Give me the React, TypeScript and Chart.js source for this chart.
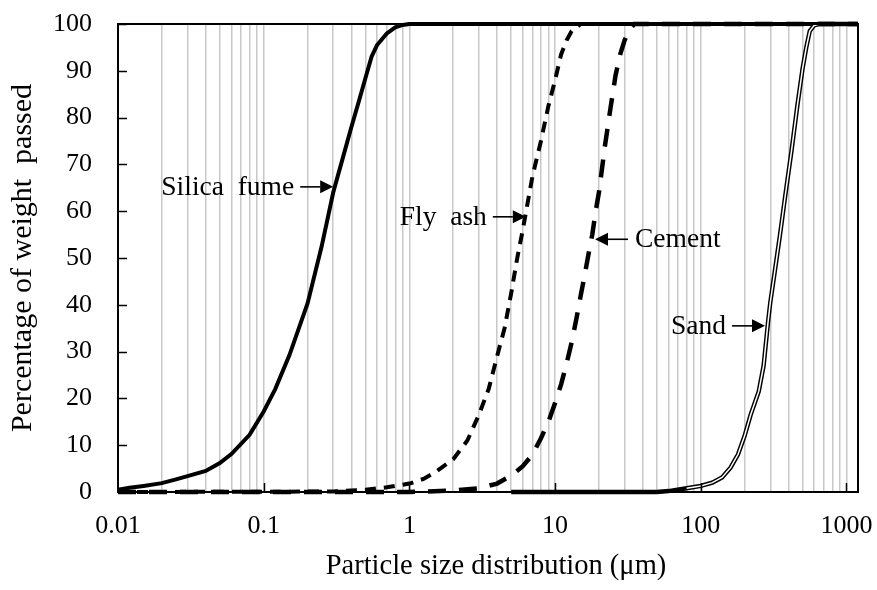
import React, { useEffect, useRef } from 'react';
import { Chart, registerables } from 'chart.js';

Chart.register(...registerables);

// Cumulative particle size distributions: size in µm, percentage of weight passed
const silicaFumeSize = [0.01, 0.012, 0.015, 0.02, 0.025, 0.03, 0.04, 0.05, 0.06, 0.08, 0.1, 0.12, 0.15, 0.2, 0.25, 0.3, 0.35, 0.4, 0.45, 0.5, 0.55, 0.6, 0.7, 0.8, 0.9, 1, 1200];
const silicaFumePassed = [0.5, 0.9, 1.3, 1.9, 2.7, 3.4, 4.5, 6.2, 8.1, 12.2, 17.2, 22, 29.2, 40.3, 52.5, 64, 71.5, 78, 83.5, 88.5, 93, 95.5, 98, 99.3, 99.8, 100, 100];

const flyAshSize = [0.01, 0.3, 0.5, 0.7, 1, 1.25, 1.5, 2, 2.5, 3, 3.5, 4, 4.5, 5, 5.5, 6, 6.5, 7, 8, 9, 10, 11, 12, 13, 15, 1200];
const flyAshPassed = [0, 0.1, 0.5, 1, 1.8, 2.8, 4.2, 7, 11, 16.5, 22, 29, 35, 42.5, 50, 56, 62, 67.5, 75, 82.5, 88, 93.5, 96.5, 98.5, 100, 100];

const cementSize = [0.01, 1, 2, 3, 4, 5, 6, 7, 8, 9, 10, 11, 12, 13, 14, 15, 16, 17, 18, 19, 20, 22, 24, 26, 28, 30, 32, 35, 1200];
const cementPassed = [0, 0, 0.3, 0.8, 1.8, 3.5, 5.5, 8, 11.5, 15, 19, 23, 27.5, 32, 37, 42, 46.5, 51, 55, 60, 64, 74, 82, 89, 93.5, 96.5, 98.5, 100, 100];

const sandSize = [5, 50, 60, 80, 100, 120, 140, 160, 180, 200, 220, 250, 270, 290, 300, 320, 350, 380, 420, 460, 500, 530, 560, 600, 650, 1200];
const sandPassed = [0, 0, 0.2, 0.8, 1.3, 2, 3.1, 5.2, 8, 12, 16.5, 21.5, 27, 36.5, 40.5, 46.5, 55, 63.3, 73, 82.5, 90.5, 95, 98.5, 99.7, 100, 100];

const xTickValues = [0.01, 0.1, 1, 10, 100, 1000];
const xTickLabels = ['0.01', '0.1', '1', '10', '100', '1000'];
const yTickValues = [0, 10, 20, 30, 40, 50, 60, 70, 80, 90, 100];

const xTitle = 'Particle size distribution (μm)';
const yTitle = 'Percentage of weight  passed';

// Curve names with the (size, % passed) point their arrow touches
const curveNames = ['Silica  fume', 'Fly  ash', 'Cement', 'Sand'];
const curveArrowSize = [0.3, 6.3, 18.8, 276];
const curveArrowPassed = [65.2, 58.8, 54, 35.5];
const curveArrowFromRight = [false, false, true, false];

const FONT = "'Liberation Serif', 'Times New Roman', serif";

const toPoints = (xs: number[], ys: number[]) => xs.map((x, i) => ({ x, y: ys[i] }));

// every 1..9 multiple of each decade, up to the axis maximum
const gridValues: number[] = [];
xTickValues.forEach((d) => {
  for (let m = 1; m <= 9; m++) {
    const v = Number((m * d).toPrecision(6));
    if (v <= 1200) gridValues.push(v);
  }
});

const decorPlugin = {
  id: 'decor',
  afterDraw(chart: any) {
    const { ctx, chartArea, scales } = chart;
    const { left, right, top, bottom } = chartArea;
    const xs = scales.x;
    const ys = scales.y;
    ctx.save();

    // top and right frame
    ctx.strokeStyle = '#000';
    ctx.lineWidth = 2;
    ctx.beginPath();
    ctx.moveTo(left - 1, top);
    ctx.lineTo(right, top);
    ctx.lineTo(right, bottom + 1);
    ctx.stroke();

    // inward tick marks
    ctx.lineWidth = 1.5;
    ctx.beginPath();
    yTickValues.forEach((v) => {
      if (v === 0) return;
      const y = Math.round(ys.getPixelForValue(v)) + 0.5;
      ctx.moveTo(left, y);
      ctx.lineTo(left + 9, y);
    });
    xTickValues.forEach((v, i) => {
      if (i === 0) return;
      const x = Math.round(xs.getPixelForValue(v)) + 0.5;
      ctx.moveTo(x, bottom);
      ctx.lineTo(x, bottom - 9);
    });
    ctx.stroke();

    // axis titles
    ctx.fillStyle = '#000';
    ctx.textAlign = 'center';
    ctx.textBaseline = 'middle';
    ctx.font = `28.5px ${FONT}`;
    ctx.fillText(xTitle, (left + right) / 2 + 8, 567);
    ctx.save();
    ctx.translate(23, (top + bottom) / 2);
    ctx.rotate(-Math.PI / 2);
    ctx.font = `30px ${FONT}`;
    ctx.fillText(yTitle, 0, 0);
    ctx.restore();

    // curve names with arrows
    ctx.font = `27.5px ${FONT}`;
    curveNames.forEach((name, i) => {
      const tipX = xs.getPixelForValue(curveArrowSize[i]);
      const tipY = ys.getPixelForValue(curveArrowPassed[i]);
      const dir = curveArrowFromRight[i] ? 1 : -1;
      const tailX = tipX + dir * 33;
      const head = 13;
      ctx.lineWidth = 1.6;
      ctx.beginPath();
      ctx.moveTo(tailX, tipY);
      ctx.lineTo(tipX + dir * head, tipY);
      ctx.stroke();
      ctx.beginPath();
      ctx.moveTo(tipX, tipY);
      ctx.lineTo(tipX + dir * head, tipY - 6.5);
      ctx.lineTo(tipX + dir * head, tipY + 6.5);
      ctx.closePath();
      ctx.fill();
      ctx.textBaseline = 'middle';
      if (dir < 0) {
        ctx.textAlign = 'right';
        ctx.fillText(name, tailX - 6, tipY + 1);
      } else {
        ctx.textAlign = 'left';
        ctx.fillText(name, tailX + 7, tipY + 1);
      }
    });

    ctx.restore();
  },
};

export default function App() {
  const canvasRef = useRef<HTMLCanvasElement | null>(null);

  useEffect(() => {
    const canvas = canvasRef.current;
    if (!canvas) return;

    const lineBase = {
      borderColor: '#000',
      backgroundColor: '#000',
      pointRadius: 0,
      tension: 0,
      fill: false,
      clip: false as const,
      order: 1,
    };

    const chart = new Chart(canvas, {
      type: 'line',
      data: {
        datasets: [
          { ...lineBase, label: 'Silica fume', data: toPoints(silicaFumeSize, silicaFumePassed), borderWidth: 4 },
          { ...lineBase, label: 'Fly ash', data: toPoints(flyAshSize, flyAshPassed), borderWidth: 4, borderDash: [11, 8] },
          { ...lineBase, label: 'Cement', data: toPoints(cementSize, cementPassed), borderWidth: 4.5, borderDash: [18, 13] },
          { ...lineBase, label: 'Sand', data: toPoints(sandSize, sandPassed), borderWidth: 4.4 },
          {
            ...lineBase,
            label: 'Sand inner',
            data: toPoints(sandSize, sandPassed).filter((p) => p.x >= 80),
            borderColor: '#fff',
            borderWidth: 1.5,
            order: 0,
          },
        ],
      },
      options: {
        animation: false,
        responsive: false,
        maintainAspectRatio: false,
        layout: { padding: { left: 0, right: 19, top: 24, bottom: 0 } },
        plugins: { legend: { display: false }, tooltip: { enabled: false }, title: { display: false } },
        scales: {
          x: {
            type: 'logarithmic',
            min: 0.01,
            max: 1200,
            afterBuildTicks: (scale: any) => {
              scale.ticks = gridValues.map((v) => ({ value: v }));
            },
            afterFit: (scale: any) => {
              scale.height = 98;
              scale.paddingLeft = 0;
              scale.paddingRight = 0;
            },
            ticks: {
              autoSkip: false,
              maxRotation: 0,
              minRotation: 0,
              padding: 19,
              color: '#000',
              font: { family: FONT, size: 26 },
              callback: (value: any) => {
                const idx = xTickValues.findIndex((t) => Math.abs(Math.log10(t) - Math.log10(Number(value))) < 1e-6);
                return idx >= 0 ? xTickLabels[idx] : '';
              },
            },
            grid: { color: '#c8c8c8', lineWidth: 1.5, drawTicks: false },
            border: { color: '#000', width: 2 },
          },
          y: {
            type: 'linear',
            min: 0,
            max: 100,
            afterFit: (scale: any) => {
              scale.width = 118;
              scale.paddingTop = 0;
              scale.paddingBottom = 0;
            },
            ticks: {
              stepSize: 10,
              padding: 26,
              color: '#000',
              font: { family: FONT, size: 26 },
            },
            grid: { display: false, drawTicks: false },
            border: { color: '#000', width: 2 },
          },
        },
      },
      plugins: [decorPlugin],
    });

    return () => chart.destroy();
  }, []);

  return (
    <div style={{ position: 'absolute', left: 0, top: 0, width: 877, height: 590, background: '#fff' }}>
      <canvas ref={canvasRef} width={877} height={590} style={{ width: 877, height: 590, display: 'block' }} />
    </div>
  );
}
